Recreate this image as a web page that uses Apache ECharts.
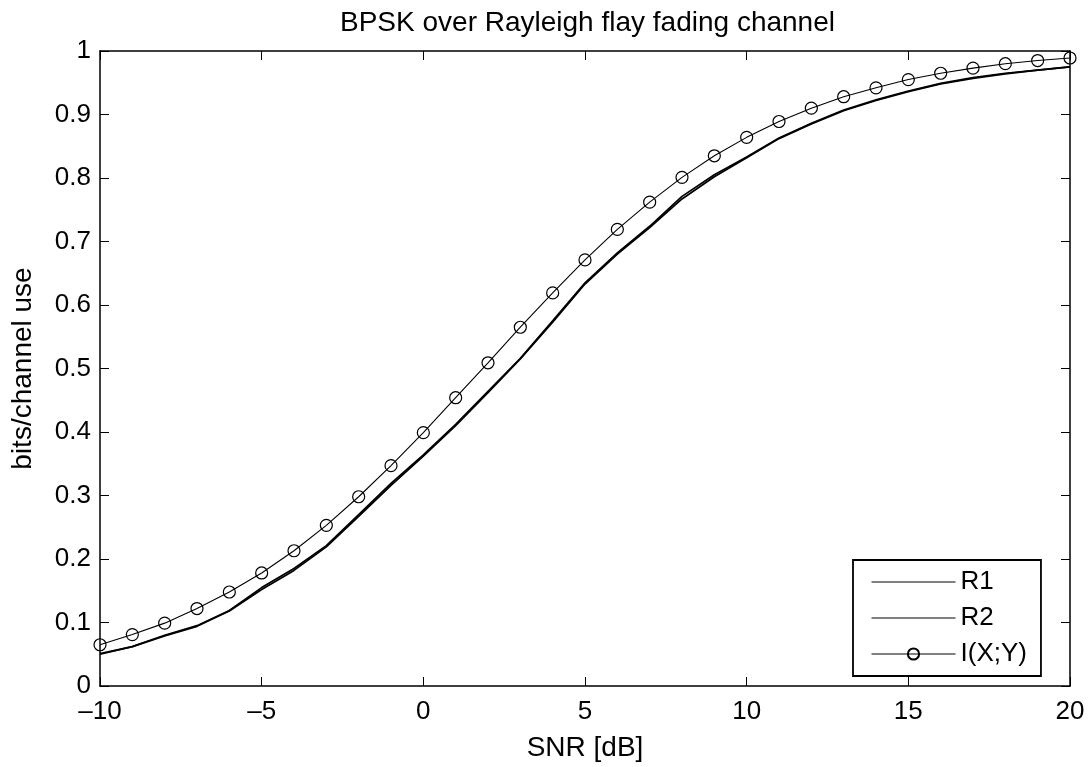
<!DOCTYPE html>
<html>
<head>
<meta charset="utf-8">
<title>BPSK over Rayleigh flay fading channel</title>
<script src="https://cdn.jsdelivr.net/npm/echarts@6/dist/echarts.min.js"></script>
<style>
    html, body {margin: 0; padding: 0; background: #fff;}
    #chart {width: 1092px; height: 767px;}
</style>
</head>
<body>
<div id="chart"></div>
<script>
// SNR points in dB
var snr = [-10, -9, -8, -7, -6, -5, -4, -3, -2, -1, 0, 1, 2, 3, 4, 5,
           6, 7, 8, 9, 10, 11, 12, 13, 14, 15, 16, 17, 18, 19, 20];

var r1 = [0.050, 0.062, 0.080, 0.095, 0.119, 0.155, 0.185, 0.221, 0.270, 0.319,
          0.364, 0.412, 0.464, 0.516, 0.575, 0.635, 0.682, 0.724, 0.771, 0.805,
          0.833, 0.863, 0.886, 0.907, 0.923, 0.937, 0.949, 0.958, 0.965, 0.970, 0.975];

var r2 = [0.051, 0.062, 0.079, 0.094, 0.118, 0.152, 0.182, 0.219, 0.267, 0.316,
          0.362, 0.410, 0.462, 0.515, 0.573, 0.633, 0.680, 0.722, 0.767, 0.802,
          0.832, 0.862, 0.885, 0.906, 0.922, 0.936, 0.948, 0.957, 0.964, 0.970, 0.975];

var mi = [0.065, 0.081, 0.099, 0.122, 0.148, 0.178, 0.213, 0.253, 0.298, 0.347,
          0.399, 0.454, 0.509, 0.565, 0.619, 0.671, 0.719, 0.762, 0.801, 0.835,
          0.864, 0.889, 0.910, 0.928, 0.942, 0.955, 0.965, 0.973, 0.980, 0.985, 0.989];

var seriesNames = ['R1', 'R2', 'I(X;Y)'];

var font = 'Liberation Sans, Arial, Helvetica, sans-serif';

// plain line icon for the legend (tiny corner dots keep the box size)
var lineIcon = 'path://M0,0 L0.01,0 L0.01,0.01 Z M0,6.5 L84,6.5 L84,7.6 L0,7.6 Z M83.99,13.99 L84,13.99 L84,14 Z';

var pairs = function(ys){
    return snr.map(function(x, i){ return [x, ys[i]]; });
};

var myChart = echarts.init(document.getElementById('chart'), null, {renderer: 'canvas'});

var boxAxis = {
    axisLine: {show: true, onZero: false, lineStyle: {color: '#000', width: 1.5}},
    axisTick: {show: true, inside: true, length: 9, lineStyle: {color: '#000', width: 1}},
    splitLine: {show: false}
};

var xAxisMain = {
    type: 'value', position: 'bottom',
    min: -10, max: 20, interval: 5,
    name: 'SNR [dB]', nameLocation: 'middle', nameGap: 48,
    nameTextStyle: {color: '#000', fontSize: 28, fontFamily: font},
    axisLabel: {
        color: '#000', fontSize: 26, fontFamily: font, margin: 13,
        formatter: function(v){ return String(v).replace('-', '\u2013'); }
    }
};

var yAxisMain = {
    type: 'value', position: 'left',
    min: 0, max: 1, interval: 0.1,
    name: 'bits/channel use', nameLocation: 'middle', nameGap: 63,
    nameTextStyle: {color: '#000', fontSize: 28, fontFamily: font},
    axisLabel: {color: '#000', fontSize: 26, fontFamily: font, margin: 9}
};

var xAxisTop = {type: 'value', position: 'top', min: -10, max: 20, interval: 5, axisLabel: {show: false}};
var yAxisRight = {type: 'value', position: 'right', min: 0, max: 1, interval: 0.1, axisLabel: {show: false}};

[xAxisMain, yAxisMain, xAxisTop, yAxisRight].forEach(function(a){
    a.axisLine = boxAxis.axisLine;
    a.axisTick = boxAxis.axisTick;
    a.splitLine = boxAxis.splitLine;
});

var series = [
    {name: seriesNames[0], type: 'line', data: pairs(r1), symbol: 'none',
     lineStyle: {color: '#000', width: 1.7}, itemStyle: {color: '#000'}},
    {name: seriesNames[1], type: 'line', data: pairs(r2), symbol: 'none',
     lineStyle: {color: '#000', width: 1.7}, itemStyle: {color: '#000'}},
    {name: seriesNames[2], type: 'line', data: pairs(mi), symbol: 'circle', symbolSize: 12,
     lineStyle: {color: '#000', width: 1.1},
     itemStyle: {color: 'rgba(0,0,0,0)', borderColor: '#000', borderWidth: 1.2}}
];

var option = {
    backgroundColor: '#fff',
    animation: false,
    title: {
        text: 'BPSK over Rayleigh flay fading channel',
        left: 335, top: 4,
        textStyle: {color: '#000', fontSize: 28, fontWeight: 'normal', fontFamily: font}
    },
    legend: {
        data: [
            {name: seriesNames[0], icon: lineIcon, itemStyle: {color: '#000'}},
            {name: seriesNames[1], icon: lineIcon, itemStyle: {color: '#000'}},
            {name: seriesNames[2]}
        ],
        orient: 'vertical',
        left: 853, top: 560,
        backgroundColor: '#fff',
        borderColor: '#000', borderWidth: 1.8,
        padding: [9, 14, 9, 18],
        itemWidth: 84, itemHeight: 14, itemGap: 10,
        lineStyle: {width: 1, color: '#000'},
        textStyle: {color: '#000', fontSize: 26, fontFamily: font, lineHeight: 26}
    },
    grid: {left: 100, right: 22, top: 51, bottom: 79, containLabel: false},
    xAxis: [xAxisMain, xAxisTop],
    yAxis: [yAxisMain, yAxisRight],
    series: series
};

myChart.setOption(option);
</script>
</body>
</html>
